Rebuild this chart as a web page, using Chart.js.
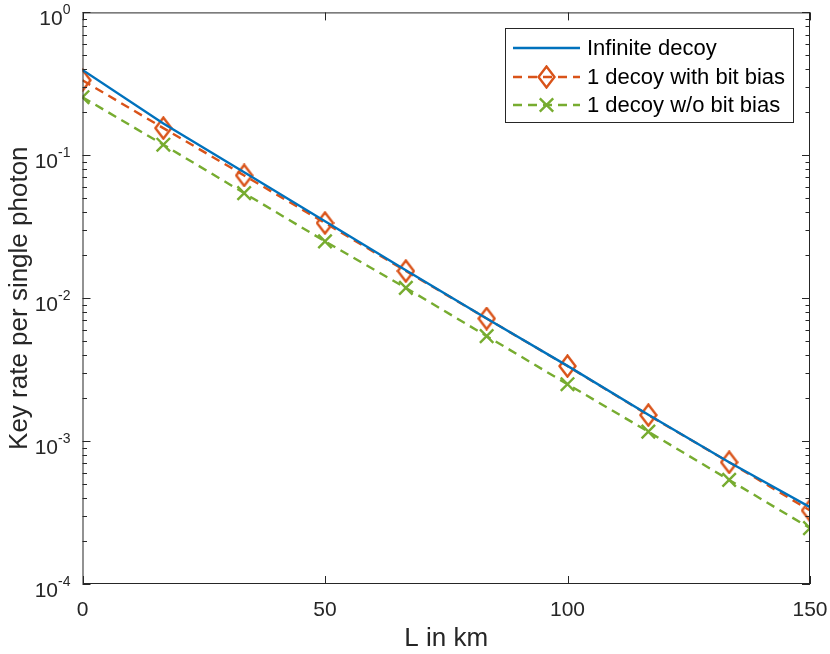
<!DOCTYPE html>
<html>
<head>
<meta charset="utf-8">
<script src="https://cdn.jsdelivr.net/npm/chart.js@4.4.1/dist/chart.umd.min.js"></script>
<style>
  html, body { margin: 0; padding: 0; background: #fff; }
  #wrap { width: 830px; height: 654px; }
</style>
</head>
<body>
<div id="wrap"><canvas id="chartCanvas"></canvas></div>
<script>
// Data
const distances = [0, 16.67, 33.33, 50, 66.67, 83.33, 100, 116.67, 133.33, 150];
const infiniteDecoy = [0.396, 0.167, 0.0762, 0.0346, 0.0157, 0.00722, 0.00336, 0.00153, 0.000712, 0.000345];
const decoyWithBias = [0.335, 0.155, 0.0723, 0.0336, 0.0155, 0.00721, 0.00335, 0.00152, 0.000711, 0.000327];
const decoyNoBias = [0.255, 0.1186, 0.0544, 0.025, 0.0118, 0.00543, 0.0025, 0.001164, 0.000535, 0.000246];
const xTicks = [0, 50, 100, 150];
const yExponents = [0, -1, -2, -3, -4];
const seriesLabels = ['Infinite decoy', '1 decoy with bit bias', '1 decoy w/o bit bias'];

const axisColor = '#262626';
const FONT = '"Liberation Sans", Arial, Helvetica, sans-serif';

// MATLAB style diamond (a bit taller than wide)
function makeDiamond(w, h, color) {
  const c = document.createElement('canvas');
  c.width = w; c.height = h;
  const g = c.getContext('2d');
  g.strokeStyle = color;
  g.lineWidth = 2.4;
  g.beginPath();
  g.moveTo(w / 2, 1.5);
  g.lineTo(w - 1.5, h / 2);
  g.lineTo(w / 2, h - 1.5);
  g.lineTo(1.5, h / 2);
  g.closePath();
  g.stroke();
  return c;
}

const diamond = makeDiamond(19, 24, '#D95319');

function toPoints(ys) {
  return distances.map((x, i) => ({ x: x, y: ys[i] }));
}

// Axes box, inward ticks, 10^n labels and legend
const matlabAxes = {
  id: 'matlabAxes',
  afterDraw(chart) {
    const ctx = chart.ctx;
    const a = chart.chartArea;
    const xs = chart.scales.x;
    const ys = chart.scales.y;
    ctx.save();
    ctx.strokeStyle = axisColor;
    ctx.lineWidth = 1;
    ctx.strokeRect(a.left + 0.5, a.top + 0.5, a.right - a.left - 1, a.bottom - a.top - 1);

    ctx.beginPath();
    xTicks.forEach(v => {
      const px = Math.round(xs.getPixelForValue(v)) + 0.5;
      ctx.moveTo(px, a.bottom); ctx.lineTo(px, a.bottom - 8);
      ctx.moveTo(px, a.top); ctx.lineTo(px, a.top + 8);
    });
    yExponents.forEach(e => {
      for (let m = 1; m <= 9; m++) {
        const v = m * Math.pow(10, e);
        if (v > 1.0001 || v < 0.99e-4) continue;
        const py = Math.round(ys.getPixelForValue(v)) + 0.5;
        const len = m === 1 ? 8 : 4.5;
        ctx.moveTo(a.left, py); ctx.lineTo(a.left + len, py);
        ctx.moveTo(a.right, py); ctx.lineTo(a.right - len, py);
      }
    });
    ctx.stroke();

    // y tick labels 10^n
    ctx.fillStyle = axisColor;
    ctx.textBaseline = 'alphabetic';
    yExponents.forEach(e => {
      const py = ys.getPixelForValue(Math.pow(10, e));
      const exp = String(e);
      ctx.font = '14px ' + FONT;
      const ew = ctx.measureText(exp).width;
      const right = a.left - 12;
      ctx.textAlign = 'left';
      ctx.fillText(exp, right - ew, py + 2);
      ctx.font = '21px ' + FONT;
      ctx.textAlign = 'right';
      ctx.fillText('10', right - ew, py + 12.5);
    });

    // legend
    const lx = 505, ly = 28, lw = 288, lh = 94;
    ctx.fillStyle = '#fff';
    ctx.fillRect(lx, ly, lw, lh);
    ctx.strokeStyle = axisColor;
    ctx.strokeRect(lx + 0.5, ly + 0.5, lw, lh);
    const rows = [48, 77, 105];
    chart.data.datasets.forEach((ds, i) => {
      const y = rows[i];
      ctx.save();
      ctx.strokeStyle = ds.borderColor;
      ctx.lineWidth = ds.borderWidth;
      ctx.setLineDash(ds.borderDash || []);
      ctx.beginPath();
      ctx.moveTo(513, y); ctx.lineTo(580, y);
      ctx.stroke();
      ctx.setLineDash([]);
      if (ds.pointStyle === diamond) {
        ctx.drawImage(diamond, 546.5 - diamond.width / 2, y - diamond.height / 2);
      } else if (ds.pointStyle === 'crossRot') {
        const r = ds.pointRadius * Math.SQRT1_2;
        ctx.lineWidth = ds.pointBorderWidth;
        ctx.strokeStyle = ds.pointBorderColor;
        ctx.beginPath();
        ctx.moveTo(546.5 - r, y - r); ctx.lineTo(546.5 + r, y + r);
        ctx.moveTo(546.5 - r, y + r); ctx.lineTo(546.5 + r, y - r);
        ctx.stroke();
      }
      ctx.restore();
      ctx.fillStyle = '#000';
      ctx.font = '22px ' + FONT;
      ctx.textAlign = 'left';
      ctx.textBaseline = 'middle';
      ctx.fillText(ds.label, 587, y + 1);
    });
    ctx.restore();
  }
};

new Chart(document.getElementById('chartCanvas'), {
  type: 'line',
  data: {
    datasets: [
      {
        label: seriesLabels[0],
        data: toPoints(infiniteDecoy),
        borderColor: '#0072BD',
        borderWidth: 2.4,
        pointRadius: 0,
        fill: false
      },
      {
        label: seriesLabels[1],
        data: toPoints(decoyWithBias),
        borderColor: '#D95319',
        borderWidth: 2.4,
        borderDash: [9, 6],
        pointStyle: diamond,
        pointRadius: 10,
        fill: false
      },
      {
        label: seriesLabels[2],
        data: toPoints(decoyNoBias),
        borderColor: '#77AC30',
        borderWidth: 2.4,
        borderDash: [9, 6],
        pointStyle: 'crossRot',
        pointRadius: 9.5,
        pointBorderWidth: 2.4,
        pointBorderColor: '#77AC30',
        fill: false
      }
    ]
  },
  options: {
    responsive: true,
    maintainAspectRatio: false,
    animation: false,
    devicePixelRatio: 1,
    layout: { padding: { left: 0, right: 20, top: 12, bottom: 0 } },
    plugins: { legend: { display: false }, tooltip: { enabled: false } },
    scales: {
      x: {
        type: 'linear',
        min: 0,
        max: 150,
        afterBuildTicks: s => { s.ticks = xTicks.map(v => ({ value: v })); },
        afterFit: s => { s.height = 70; s.paddingLeft = 0; s.paddingRight = 0; },
        grid: { display: false, drawTicks: false },
        border: { display: false },
        ticks: { color: axisColor, font: { family: FONT, size: 21 }, padding: 14, maxRotation: 0 },
        title: { display: true, text: 'L in km', color: axisColor, font: { family: FONT, size: 26 }, padding: { top: 0, bottom: 0 } }
      },
      y: {
        type: 'logarithmic',
        min: 1e-4,
        max: 1,
        afterFit: s => { s.width = 82.5; s.paddingTop = 0; s.paddingBottom = 0; },
        grid: { display: false, drawTicks: false },
        border: { display: false },
        ticks: { display: false },
        title: { display: true, text: 'Key rate per single photon', color: axisColor, font: { family: FONT, size: 26 }, padding: { top: 4, bottom: 0 } }
      }
    }
  },
  plugins: [matlabAxes]
});
</script>
</body>
</html>
